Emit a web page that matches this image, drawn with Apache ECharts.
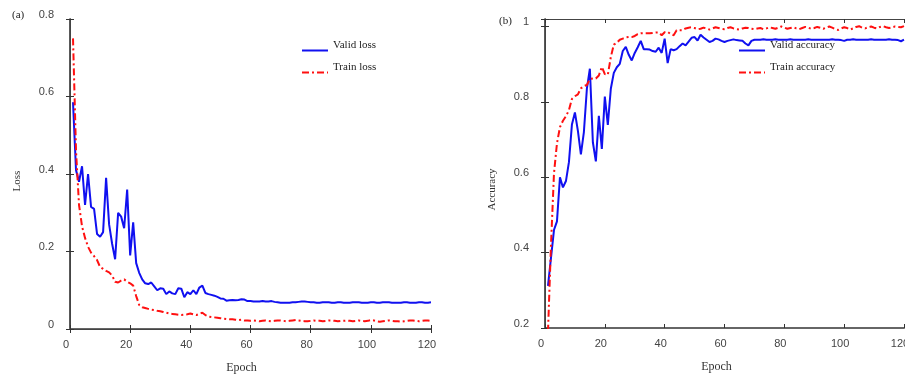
<!DOCTYPE html>
<html>
<head>
<meta charset="utf-8">
<script src="https://cdn.jsdelivr.net/npm/echarts@6/dist/echarts.min.js"></script>
<style>html,body{margin:0;padding:0;background:#fff}#c{width:905px;height:376px}</style>
</head>
<body>
<div id="c"></div>
<script>
// ---------- DATA (epoch = index + 1) ----------
const validLoss = [
  0.585,0.41,0.38,0.42,0.32,0.40,0.315,0.31,0.245,0.238,
  0.25,0.39,0.27,0.22,0.18,0.30,0.29,0.26,0.36,0.19,
  0.275,0.17,0.145,0.128,0.118,0.116,0.12,0.11,0.10,0.105,
  0.104,0.09,0.097,0.092,0.09,0.105,0.104,0.082,0.095,0.09,
  0.10,0.09,0.107,0.112,0.093,0.09,0.088,0.086,0.083,0.079,
  0.078,0.073,0.074,0.075,0.074,0.075,0.077,0.076,0.072,0.072,
  0.071,0.071,0.071,0.072,0.071,0.071,0.072,0.070,0.069,0.068,
  0.068,0.068,0.068,0.069,0.069,0.070,0.071,0.071,0.070,0.069,
  0.069,0.068,0.068,0.069,0.069,0.069,0.068,0.068,0.069,0.069,
  0.068,0.068,0.068,0.069,0.069,0.069,0.068,0.068,0.068,0.069,
  0.069,0.068,0.068,0.069,0.069,0.069,0.068,0.068,0.068,0.068,
  0.069,0.069,0.068,0.068,0.068,0.069,0.069,0.068,0.068,0.069
];
const trainLoss = [
  0.75,0.46,0.32,0.265,0.235,0.212,0.197,0.188,0.178,0.16,
  0.155,0.15,0.146,0.138,0.122,0.12,0.125,0.128,0.122,0.118,
  0.112,0.085,0.062,0.056,0.054,0.052,0.050,0.049,0.047,0.046,
  0.044,0.042,0.040,0.039,0.038,0.037,0.036,0.037,0.038,0.040,
  0.038,0.036,0.039,0.042,0.036,0.032,0.031,0.030,0.029,0.028,
  0.027,0.026,0.025,0.025,0.024,0.023,0.024,0.022,0.022,0.021,
  0.022,0.021,0.020,0.021,0.022,0.021,0.020,0.021,0.022,0.022,
  0.021,0.020,0.021,0.022,0.023,0.022,0.021,0.020,0.020,0.021,
  0.022,0.021,0.021,0.020,0.021,0.022,0.022,0.021,0.020,0.021,
  0.021,0.022,0.021,0.020,0.021,0.022,0.021,0.020,0.021,0.023,
  0.022,0.020,0.019,0.020,0.021,0.022,0.021,0.020,0.020,0.019,
  0.020,0.021,0.022,0.022,0.021,0.020,0.021,0.022,0.022,0.021
];
const validAcc = [
  0.312,0.386,0.46,0.483,0.60,0.573,0.59,0.64,0.74,0.772,
  0.723,0.661,0.72,0.835,0.888,0.693,0.642,0.763,0.675,0.814,
  0.739,0.835,0.877,0.892,0.901,0.935,0.946,0.925,0.91,0.93,
  0.945,0.962,0.94,0.94,0.939,0.935,0.933,0.944,0.93,0.968,
  0.903,0.94,0.937,0.94,0.948,0.955,0.95,0.96,0.97,0.972,
  0.963,0.978,0.971,0.965,0.959,0.962,0.968,0.966,0.962,0.959,
  0.962,0.964,0.966,0.964,0.963,0.962,0.955,0.95,0.962,0.965,
  0.965,0.965,0.966,0.965,0.965,0.965,0.966,0.965,0.965,0.965,
  0.965,0.966,0.965,0.965,0.965,0.965,0.965,0.966,0.965,0.965,
  0.965,0.965,0.965,0.965,0.965,0.966,0.965,0.965,0.964,0.962,
  0.965,0.965,0.966,0.965,0.965,0.965,0.965,0.965,0.966,0.965,
  0.965,0.965,0.965,0.965,0.966,0.965,0.965,0.964,0.961,0.965
];
const trainAcc = [
  0.19,0.42,0.61,0.69,0.733,0.75,0.762,0.778,0.808,0.815,
  0.82,0.836,0.842,0.845,0.861,0.862,0.862,0.87,0.893,0.874,
  0.872,0.919,0.952,0.957,0.965,0.968,0.971,0.972,0.972,0.975,
  0.98,0.982,0.982,0.982,0.982,0.983,0.984,0.984,0.977,0.985,
  0.986,0.98,0.977,0.99,0.99,0.99,0.995,0.997,0.998,0.996,
  0.993,0.994,0.997,0.995,0.992,0.995,0.998,0.996,0.994,0.993,
  0.996,0.998,0.995,0.993,0.992,0.995,0.997,0.996,0.994,0.993,
  0.995,0.996,0.993,0.995,0.998,0.996,0.994,0.997,1.0,0.997,
  0.994,0.996,0.998,0.995,0.993,0.996,0.999,0.997,0.994,0.996,
  0.999,0.997,0.994,0.997,1.0,0.997,0.993,0.991,0.995,0.998,
  0.996,0.992,0.995,0.999,1.001,0.997,0.995,0.998,1.0,0.997,
  0.995,0.999,1.001,0.998,0.996,0.998,1.0,0.999,0.998,1.001
];
const xTicks = { min: 0, max: 120, interval: 20 };
const lossTicks = { min: 0, max: 0.8, interval: 0.2 };
const accTicks = { min: 0.2, max: 1.02, interval: 0.2 };
const legendLoss = ['Valid loss', 'Train loss'];
const legendAcc = ['Valid accuracy', 'Train accuracy'];

// ---------- CHART ----------
const pairs = arr => arr.map((v, i) => [i + 1, v]);
const serif = 'Liberation Serif, Times New Roman, serif';
const sans = 'Liberation Sans, Arial, sans-serif';
const dashDot = [7, 3, 2, 3];

function bottomX(gi, shift) {
  return {
    gridIndex: gi, type: 'value', position: 'bottom', ...xTicks,
    name: 'Epoch', nameLocation: 'middle', nameGap: 33,
    nameTextStyle: { fontFamily: serif, fontSize: 12, color: '#333', padding: [0, shift, 0, 0] },
    axisLine: { lineStyle: { color: '#666', width: 2 } },
    axisTick: { inside: true, length: 4, lineStyle: { color: '#333' } },
    axisLabel: { fontFamily: sans, fontSize: 11, color: '#444', margin: 10, padding: [0, 8, 0, 0] },
    splitLine: { show: false }
  };
}
function topX(gi) {
  return {
    gridIndex: gi, type: 'value', position: 'top', ...xTicks,
    axisLine: { lineStyle: { color: '#444', width: 1 } },
    axisTick: { inside: true, length: 4, lineStyle: { color: '#333' } },
    axisLabel: { show: false }, splitLine: { show: false }
  };
}
function leftY(gi, ticks, name, gap, shift) {
  return {
    gridIndex: gi, type: 'value', position: 'left', ...ticks,
    name: name, nameLocation: 'middle', nameGap: gap,
    nameTextStyle: { fontFamily: serif, fontSize: 11, color: '#333', padding: [0, shift, 0, 0] },
    axisLine: { lineStyle: { color: '#222', width: 1.5 } },
    axisTick: { inside: true, length: 4, lineStyle: { color: '#333' } },
    axisLabel: {
      fontFamily: sans, fontSize: 11, color: '#444', margin: 16,
      verticalAlign: 'bottom', lineHeight: 9,
      formatter: v => (v > 1.001 ? '' : String(+v.toFixed(2)))
    },
    splitLine: { show: false }
  };
}
function rightY(gi, ticks) {
  return {
    gridIndex: gi, type: 'value', position: 'right', ...ticks,
    axisLine: { lineStyle: { color: '#444', width: 1 } },
    axisTick: { inside: true, length: 4, lineStyle: { color: '#333' } },
    axisLabel: { show: false }, splitLine: { show: false }
  };
}
function legend(names, left) {
  return {
    data: names, orient: 'vertical', left: left, top: 35,
    itemWidth: 26, itemHeight: 14, itemGap: 1, itemStyle: { opacity: 0 },
    formatter: n => '{t|' + n + '}',
    textStyle: {
      fontFamily: serif, fontSize: 11, color: '#222',
      rich: { t: { fontFamily: serif, fontSize: 11, color: '#222', lineHeight: 13, padding: [0, 0, 10, 0] } }
    },
    selectedMode: false
  };
}
function line(name, data, xi, yi, color, type) {
  return {
    name, type: 'line', data: pairs(data), xAxisIndex: xi, yAxisIndex: yi,
    showSymbol: false, symbol: 'none', clip: true, animation: false,
    lineStyle: { color, width: 2, type },
    itemStyle: { color }
  };
}

const chart = echarts.init(document.getElementById('c'), null, { renderer: 'canvas' });
chart.setOption({
  backgroundColor: '#fff',
  animation: false,
  title: [
    { text: '(a)', left: 7, top: 5, textStyle: { fontFamily: serif, fontSize: 11, fontWeight: 'normal', color: '#222' } },
    { text: '(b)', left: 494, top: 11, textStyle: { fontFamily: serif, fontSize: 11, fontWeight: 'normal', color: '#222' } }
  ],
  grid: [
    { left: 70, top: 19, width: 361, height: 310, containLabel: false, outerBoundsMode: 'none' },
    { left: 545, top: 19, width: 359, height: 309, containLabel: false, outerBoundsMode: 'none' }
  ],
  legend: [legend(legendLoss, 296), legend(legendAcc, 733)],
  xAxis: [bottomX(0, 18), topX(0), bottomX(1, 16), topX(1)],
  yAxis: [
    leftY(0, lossTicks, 'Loss', 47, 14), rightY(0, lossTicks),
    leftY(1, accTicks, 'Accuracy', 47, 32), rightY(1, accTicks)
  ],
  series: [
    line(legendLoss[0], validLoss, 0, 0, '#1010f0', 'solid'),
    line(legendLoss[1], trainLoss, 0, 0, '#ff1010', dashDot),
    line(legendAcc[0], validAcc, 2, 2, '#1010f0', 'solid'),
    line(legendAcc[1], trainAcc, 2, 2, '#ff1010', dashDot)
  ]
});
</script>
</body>
</html>
